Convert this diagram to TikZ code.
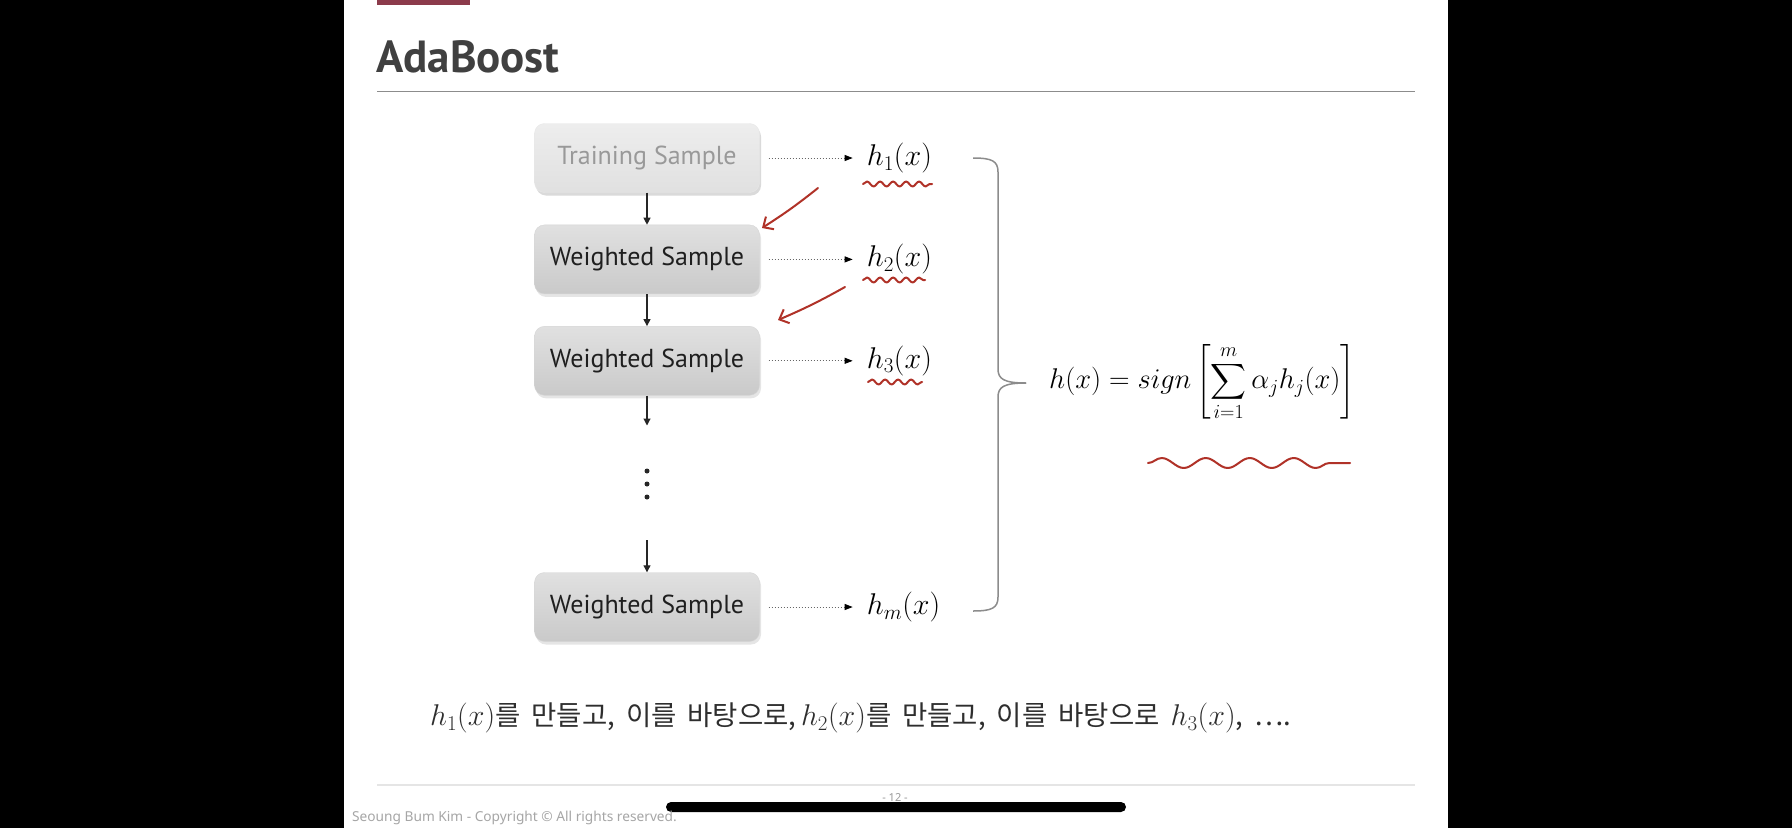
\RequirePackage{fix-cm}
\documentclass[tikz,border=0pt]{standalone}
\usepackage{exscale}
\usepackage[no-math]{fontspec}
\setmainfont{PT Sans}
\newfontfamily\krfont{Noto Sans CJK KR}
\newfontfamily\footfont{Noto Sans}
\usetikzlibrary{arrows.meta,positioning,shadows,decorations.pathmorphing}

\definecolor{slidered}{HTML}{8C3B4B}
\definecolor{pen}{HTML}{B03228}
\definecolor{titlegray}{HTML}{404040}
\newcommand{\hofx}[1]{{\fontsize{30}{31}\selectfont$h_{#1}(x)$}}

\begin{document}
\begin{tikzpicture}[
  x=1pt,y=-1pt,
  >={Triangle[length=7pt,width=7pt]},
  sample/.style={rounded corners=10pt,minimum width=225pt,minimum height=69pt,inner sep=0pt,
    draw=black!16,top color=black!12,bottom color=black!21,
    drop shadow={opacity=.2,shadow xshift=1.5pt,shadow yshift=-3pt},
    font=\fontsize{26}{30}\selectfont,text=black!88},
  faded/.style={sample,top color=black!7,bottom color=black!12,text=black!40,draw=black!9,
    drop shadow={opacity=.1,shadow xshift=1.5pt,shadow yshift=-3pt}},
  weak/.style={inner sep=3pt,font=\fontsize{30}{34}\selectfont},
  vote/.style={-{Triangle[length=8pt,width=6pt,black]},dotted,line width=1pt,black!60,shorten <=9pt,shorten >=11pt},
  chain/.style={->,line width=1.1pt,black!85},
  ink/.style={pen,line width=2pt,line cap=round,line join=round},
  wavy/.style={ink,decorate,decoration={snake,segment length=13pt,amplitude=2.5pt}}
]
  \useasboundingbox (0,0) rectangle (1792,828);
  \fill[black] (0,0) rectangle (1792,828);
  \fill[white] (344,0) rectangle (1448,828);
  \fill[slidered] (377,0) rectangle (470,5);

  \node[font=\bfseries\fontsize{45}{50}\selectfont,text=titlegray,anchor=base west,inner sep=0pt] (title) at (376,72) {AdaBoost};
  \draw[black!45,line width=1.3pt] (377,91.5) -- (1415,91.5);

  \node[faded] (train) at (647,158) {Training Sample};
  \node[sample,below=32pt of train] (ws1) {Weighted Sample};
  \node[sample,below=32pt of ws1] (ws2) {Weighted Sample};
  \node[sample] (wsm) at (647,607) {Weighted Sample};

  \coordinate[below=30pt of ws2.south] (gaptop);
  \coordinate[above=32pt of wsm.north] (gapbot);
  \draw[chain] (train) -- (ws1);
  \draw[chain] (ws1) -- (ws2);
  \draw[chain] (ws2) -- (gaptop);
  \draw[chain] (gapbot) -- (wsm);
  \foreach \y in {471,484,497}
    \fill[black!85] (647,\y) circle (2.5pt);

  \node[weak,right=104pt of train] (h1) {$h_1(x)$};
  \node[weak,right=104pt of ws1] (h2) {$h_2(x)$};
  \node[weak,right=104pt of ws2] (h3) {$h_3(x)$};
  \node[weak,right=104pt of wsm] (hm) {$h_m(x)$};
  \draw[vote] (train) -- (h1);
  \draw[vote] (ws1) -- (h2);
  \draw[vote] (ws2) -- (h3);
  \draw[vote] (wsm) -- (hm);

  \coordinate (btop) at (973,158);
  \coordinate (bbot) at (973,611);
  \coordinate (btip) at (1026,383);
  \draw[black!45,line width=1.5pt] (btop) .. controls (992,158) and (998,161) .. (998,172) -- (998,369) .. controls (998,379) and (1004,383) .. (btip);
  \draw[black!45,line width=1.5pt] (bbot) .. controls (992,611) and (998,608) .. (998,597) -- (998,397) .. controls (998,387) and (1004,383) .. (btip);

  \node[weak,anchor=west,font=\fontsize{28.5}{32}\selectfont] (vote) at (1046,383) {$h(x) = sign\left[\displaystyle\sum_{i=1}^{m}\alpha_j h_j(x)\right]$};

  \draw[ink,-{Straight Barb[length=8pt,width=15pt]}] (818,188) to[bend left=3] (762,228);
  \draw[ink,-{Straight Barb[length=8pt,width=15pt]}] (845,287) to[bend left=3] (778,320);
  \draw[wavy] (863,184) -- (932,184);
  \draw[wavy] (863,280) -- (925,280);
  \draw[wavy] (868,382) -- (922,382);
  \draw[ink,decorate,decoration={snake,segment length=44pt,amplitude=5pt}] (1148,463) -- (1350,463);

  \node[font=\krfont\fontsize{27.5}{31}\selectfont,text=black!82,anchor=west,inner sep=0pt] (note) at (430,718) {\spaceskip=11pt\hofx{1}를 만들고, 이를 바탕으로,\,\hofx{2}를 만들고, 이를 바탕으로 \hofx{3}, ….};

  \draw[black!10,line width=2pt] (377,785) -- (1415,785);
  \node[font=\footfont\fontsize{11}{13}\selectfont,text=black!40] (pageno) at (895,798) {- 12 -};
  \fill[black,rounded corners=5pt] (666,802) rectangle (1126,812);
  \node[font=\footfont\fontsize{13.7}{16}\selectfont,text=black!35,anchor=west,inner sep=0pt] (credit) at (352,818) {Seoung Bum Kim - Copyright © All rights reserved.};
\end{tikzpicture}
\end{document}
